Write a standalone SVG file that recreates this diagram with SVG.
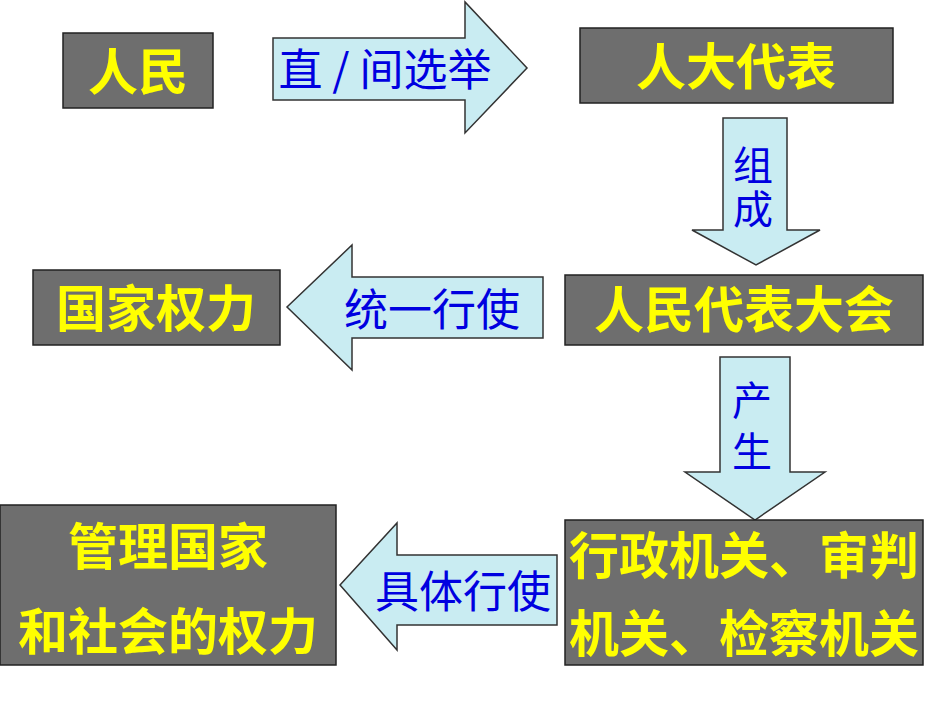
<svg xmlns="http://www.w3.org/2000/svg" width="950" height="713" viewBox="0 0 950 713">
<style>
.box{fill:#6e6e6e;stroke:#222;stroke-width:1.5}
.bt{fill:#ffff00;font-family:"Noto Sans CJK SC",sans-serif;font-weight:bold;font-size:50px;text-anchor:middle}
.ar{fill:#c9ecf2;stroke:#333;stroke-width:1.5}
.at{fill:#0000e0;font-family:"Noto Sans CJK SC",sans-serif;font-size:44px;text-anchor:middle}
.vt{font-size:40px}
</style>
<rect width="950" height="713" fill="#fff"/>
<g id="connectors">
<polygon class="ar" points="273,38 465,38 465,2 527,68 465,133 465,100 273,100"/>
<text class="at" x="385" y="86" font-size="42">直 / 间选举</text>
<polygon class="ar" points="723,118 787,118 787,230 820,230 756,265 692,230 723,230"/>
<text class="at vt" x="753" y="180">组</text>
<text class="at vt" x="753" y="224">成</text>
<polygon class="ar" points="543,277 352,277 352,245 287,307 352,370 352,338 543,338"/>
<text class="at" x="432" y="326">统一行使</text>
<polygon class="ar" points="720,357 790,357 790,472 825,472 755,520 685,472 720,472"/>
<text class="at vt" x="752" y="415">产</text>
<text class="at vt" x="752" y="466">生</text>
<polygon class="ar" points="557,555 397,555 397,523 340,585 397,650 397,625 557,625"/>
<text class="at" x="463" y="608">具体行使</text>
</g>
<g id="n1"><rect class="box" x="63" y="33" width="150" height="75"/><text class="bt" x="138" y="90" font-size="52">人民</text></g>
<g id="n2"><rect class="box" x="580" y="28" width="313" height="75"/><text class="bt" x="736" y="85">人大代表</text></g>
<g id="n3"><rect class="box" x="33" y="270" width="247" height="75"/><text class="bt" x="156" y="327">国家权力</text></g>
<g id="n4"><rect class="box" x="565" y="275" width="358" height="70"/><text class="bt" x="744" y="328" font-size="49">人民代表大会</text></g>
<g id="n5"><rect class="box" x="0" y="505" width="336" height="160"/><text class="bt" x="168" y="565" font-size="48">管理国家</text><text class="bt" x="168" y="650" font-size="48">和社会的权力</text></g>
<g id="n6"><rect class="box" x="565" y="520" width="358" height="145"/><text class="bt" x="744" y="574" font-size="42">行政机关、审判</text><text class="bt" x="744" y="652" font-size="42">机关、检察机关</text></g>
</svg>
